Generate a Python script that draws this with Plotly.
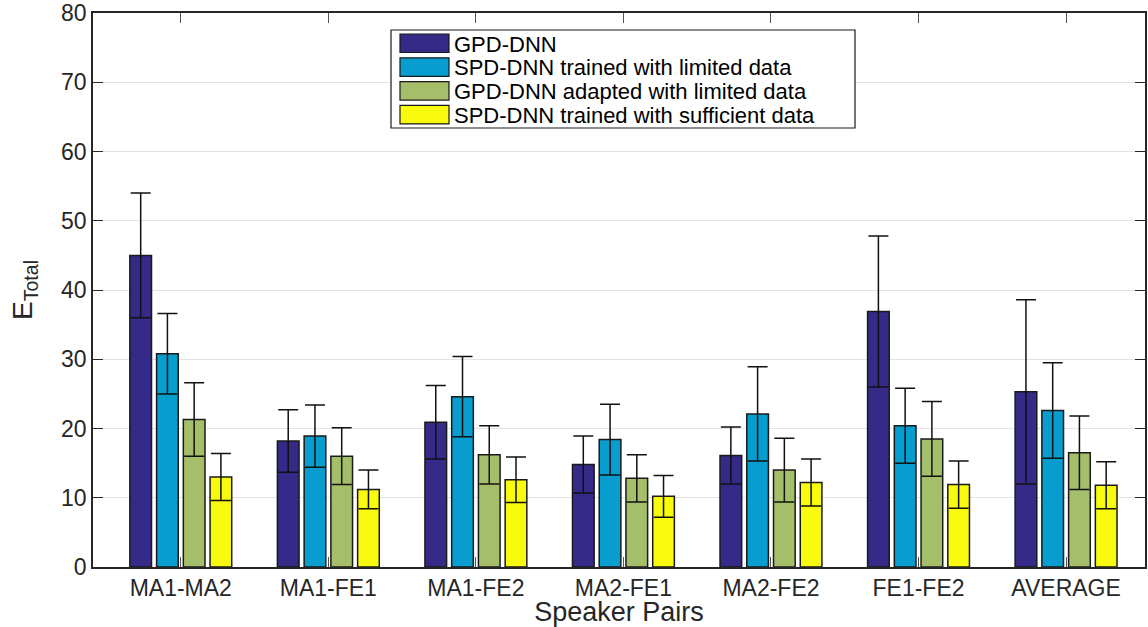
import plotly.graph_objects as go

categories = ["MA1-MA2", "MA1-FE1", "MA1-FE2", "MA2-FE1", "MA2-FE2", "FE1-FE2", "AVERAGE"]
series_names = [
    "GPD-DNN",
    "SPD-DNN trained with limited data",
    "GPD-DNN adapted with limited data",
    "SPD-DNN trained with sufficient data",
]
gpd_dnn = [45.0, 18.2, 20.9, 14.8, 16.1, 36.9, 25.3]
gpd_dnn_err = [9.0, 4.5, 5.3, 4.1, 4.1, 10.9, 13.3]
spd_limited = [30.8, 18.9, 24.6, 18.4, 22.1, 20.4, 22.6]
spd_limited_err = [5.8, 4.5, 5.8, 5.1, 6.8, 5.4, 6.9]
gpd_adapted = [21.3, 16.0, 16.2, 12.8, 14.0, 18.5, 16.5]
gpd_adapted_err = [5.3, 4.1, 4.2, 3.4, 4.6, 5.4, 5.3]
spd_sufficient = [13.0, 11.2, 12.6, 10.2, 12.2, 11.9, 11.8]
spd_sufficient_err = [3.4, 2.8, 3.3, 3.0, 3.4, 3.4, 3.4]
colors = ["#352A87", "#079DCF", "#A5BE6A", "#F9FB0E"]

values = [gpd_dnn, spd_limited, gpd_adapted, spd_sufficient]
errors = [gpd_dnn_err, spd_limited_err, gpd_adapted_err, spd_sufficient_err]

FONT = "Liberation Sans, Arial, Helvetica, sans-serif"
TXT = "#262626"

fig = go.Figure()
for name, vals, errs, col in zip(series_names, values, errors, colors):
    fig.add_trace(go.Bar(
        x=categories, y=vals, name=name,
        marker=dict(color=col, line=dict(color="#1a1a1a", width=1.5)),
        error_y=dict(type="data", array=errs, visible=True, color="#111111",
                     thickness=1.5, width=10),
        showlegend=False,
    ))

FW, FH = 1148, 627
# plot area in window pixels
L, R, T, B = 93, 1145, 13, 567
W, H = R - L, B - T

def px(x):
    return (x - L) / W

def py(y):
    return (B - y) / H

shapes = [dict(type="rect", xref="paper", yref="paper",
               x0=px(391), x1=px(855), y0=py(128), y1=py(30),
               line=dict(color="#1a1a1a", width=1.2), fillcolor="white", layer="above")]
annotations = []
for i, (name, col) in enumerate(zip(series_names, colors)):
    top = 34 + 23.8 * i
    shapes.append(dict(type="rect", xref="paper", yref="paper",
                       x0=px(400), x1=px(449), y0=py(top + 18.5), y1=py(top),
                       line=dict(color="#1a1a1a", width=1.2), fillcolor=col, layer="above"))
    annotations.append(dict(xref="paper", yref="paper", x=px(452), y=py(top + 10),
                            xanchor="left", yanchor="middle", text=name, showarrow=False,
                            font=dict(family=FONT, size=22, color="black")))

fig.update_layout(
    width=FW, height=FH,
    margin=dict(l=L, r=FW - R, t=T, b=FH - B, autoexpand=False),
    paper_bgcolor="white", plot_bgcolor="white",
    barmode="group", bargap=0.275, bargroupgap=0.19,
    font=dict(family=FONT, size=23, color=TXT),
    shapes=shapes, annotations=annotations,
    showlegend=False,
)
fig.update_xaxes(
    type="category", range=[-0.595, 6.535], automargin=False,
    showline=True, linecolor=TXT, linewidth=1.5, mirror="ticks",
    ticks="inside", ticklen=10, tickcolor="#555555", tickwidth=1,
    showgrid=False, layer="below traces",
    tickfont=dict(size=23, color=TXT),
    title=dict(text="Speaker Pairs", font=dict(size=27, color=TXT), standoff=1),
)
fig.update_yaxes(
    range=[0, 80], dtick=10, automargin=False, ticklabeloverflow="allow",
    showline=True, linecolor=TXT, linewidth=1.5, mirror="ticks",
    ticks="inside", ticklen=10, tickcolor=TXT, tickwidth=1,
    showgrid=True, gridcolor="#E3E3E3", gridwidth=1.2, zeroline=False,
    layer="below traces",
    tickfont=dict(size=23, color=TXT),
    title=dict(text="E<sub>Total</sub>", font=dict(size=28, color=TXT), standoff=20),
)

fig.write_html("out.html", config={"displayModeBar": False},
               post_script="document.body.style.margin='0';document.body.style.padding='0';")
